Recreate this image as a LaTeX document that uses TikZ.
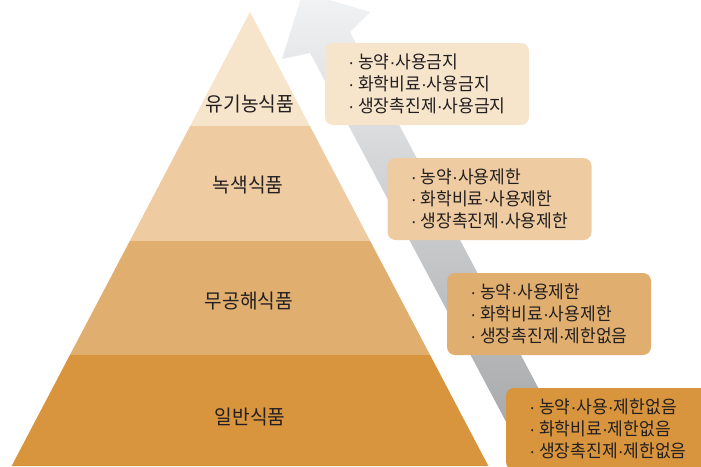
\documentclass[tikz,border=0pt]{standalone}
\usepackage{fontspec}
\setmainfont[FakeStretch=0.96]{Noto Sans CJK KR}
\newfontfamily\dotfont{Liberation Sans}
\newcommand{\md}{{\dotfont ·}}
\definecolor{lay1}{HTML}{F6E4CB}
\definecolor{lay2}{HTML}{EECBA0}
\definecolor{lay3}{HTML}{E0AF6F}
\definecolor{lay4}{HTML}{D9953E}
\definecolor{txt}{HTML}{231F20}
\definecolor{arrtop}{HTML}{F2F3F5}
\definecolor{arrbot}{HTML}{9FA0A2}
\tikzset{
  layerlabel/.style={font=\fontsize{20pt}{24pt}\selectfont, text=txt, inner sep=0pt},
  infobox/.style={rounded corners=8pt, minimum width=204pt, minimum height=82pt,
    align=left, text=txt, inner sep=0pt,
    font=\fontsize{17.8pt}{22pt}\selectfont},
}
\begin{document}
\begin{tikzpicture}[x=1pt,y=-1pt]
\useasboundingbox (0,0) rectangle (701,466);
\clip (0,0) rectangle (701,466);
% arrow
\shade[top color=arrtop, bottom color=arrbot]
  (303,-8) -- (370,12) -- (350,32) -- (587,480) -- (537,480) -- (310,53) -- (282,59) -- cycle;
% pyramid layers
\fill[lay1] (250,12) -- (309.9,126) -- (190.1,126) -- cycle;
\fill[lay2] (190.1,126) -- (309.9,126) -- (370.2,241) -- (129.8,241) -- cycle;
\fill[lay3] (129.8,241) -- (370.2,241) -- (430.1,355) -- (69.9,355) -- cycle;
\fill[lay4] (69.9,355) -- (430.1,355) -- (488.4,466) -- (11.6,466) -- cycle;
\node[layerlabel] (l1) at (250,104) {유기농식품};
\node[layerlabel] (l2) at (248,185) {녹색식품};
\node[layerlabel] (l3) at (249,301) {무공해식품};
\node[layerlabel] (l4) at (250,417) {일반식품};
% boxes
\node[infobox, fill=lay1] (b1) at (427,84) {\md\ 농약\md 사용금지\\\md\ 화학비료\md 사용금지\\\md\ 생장촉진제\md 사용금지};
\node[infobox, fill=lay2] (b2) at (489.5,199) {\md\ 농약\md 사용제한\\\md\ 화학비료\md 사용제한\\\md\ 생장촉진제\md 사용제한};
\node[infobox, fill=lay3] (b3) at (549,314) {\md\ 농약\md 사용제한\\\md\ 화학비료\md 사용제한\\\md\ 생장촉진제\md 제한없음};
\node[infobox, fill=lay4] (b4) at (608,429) {\md\ 농약\md 사용\md 제한없음\\\md\ 화학비료\md 제한없음\\\md\ 생장촉진제\md 제한없음};
\end{tikzpicture}
\end{document}
